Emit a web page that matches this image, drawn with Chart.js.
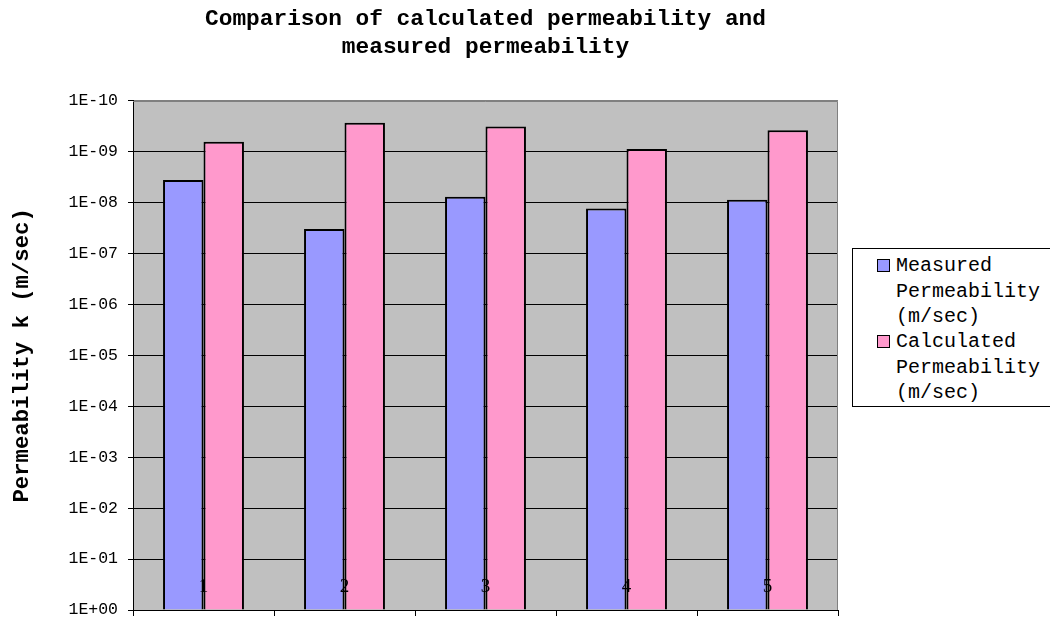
<!DOCTYPE html>
<html>
<head>
<meta charset="utf-8">
<script src="https://cdn.jsdelivr.net/npm/chart.js@4.4.0/dist/chart.umd.min.js"></script>
<style>
html,body{margin:0;padding:0;background:#fff;}
#wrap{position:relative;width:1050px;height:622px;overflow:hidden;background:#fff;}
#c{position:absolute;left:0;top:0;}
#legend{position:absolute;left:852px;top:248px;width:215px;height:157px;border:1px solid #000;background:#fff;
  font-family:"Liberation Mono",monospace;font-size:20px;color:#000;}
.sw{position:absolute;left:24px;width:11px;height:11px;border:1px solid #000;}
.txt{position:absolute;left:43px;line-height:25.6px;white-space:pre;}
</style>
</head>
<body>
<div id="wrap">
<canvas id="c" width="1050" height="622"></canvas>
<div id="legend"></div>
</div>
<script>
const categories = ['1', '2', '3', '4', '5'];
const seriesNames = [['Measured', 'Permeability', '(m/sec)'], ['Calculated', 'Permeability', '(m/sec)']];
const measured = [3.6e-9, 3.3e-8, 7.7e-9, 1.3e-8, 8.8e-9];
const calculated = [6.4e-10, 2.7e-10, 3.2e-10, 8.9e-10, 3.8e-10];
const seriesColors = ['#9999FF', '#FF99CC'];
const tickValues = [1e-10, 1e-9, 1e-8, 1e-7, 1e-6, 1e-5, 1e-4, 1e-3, 1e-2, 1e-1, 1];
const tickLabels = ['1E-10', '1E-09', '1E-08', '1E-07', '1E-06', '1E-05', '1E-04', '1E-03', '1E-02', '1E-01', '1E+00'];
const titleLines = ['Comparison of calculated permeability and', 'measured permeability'];
const yTitle = 'Permeability k (m/sec)';

// HTML legend
const leg = document.getElementById('legend');
const legTops = [[10, 4], [86, 80]];
seriesNames.forEach((lines, i) => {
  const sw = document.createElement('div');
  sw.className = 'sw';
  sw.style.top = legTops[i][0] + 'px';
  sw.style.background = seriesColors[i];
  leg.appendChild(sw);
  const t = document.createElement('div');
  t.className = 'txt';
  t.style.top = legTops[i][1] + 'px';
  t.textContent = lines.join('\n');
  leg.appendChild(t);
});

const bgPlugin = {
  id: 'bgPlugin',
  beforeDraw(chart) {
    const {ctx, chartArea: a} = chart;
    ctx.save();
    ctx.fillStyle = '#C0C0C0';
    ctx.fillRect(a.left, a.top, a.right - a.left, a.bottom - a.top);
    ctx.restore();
  },
  afterDatasetsDraw(chart) {
    const {ctx, chartArea: a, scales: {x, y}} = chart;
    ctx.save();
    ctx.strokeStyle = '#808080';
    ctx.lineWidth = 1;
    ctx.beginPath();
    ctx.moveTo(a.left, Math.round(a.top) + 0.5);
    ctx.lineTo(Math.round(a.right) - 0.5, Math.round(a.top) + 0.5);
    ctx.lineTo(Math.round(a.right) - 0.5, a.bottom);
    ctx.stroke();
    ctx.fillStyle = '#000';
    ctx.font = '19px "Liberation Serif"';
    ctx.textAlign = 'center';
    ctx.textBaseline = 'middle';
    categories.forEach((c, i) => ctx.fillText(c, x.getPixelForValue(i), y.bottom - 23));
    ctx.restore();
  }
};

new Chart(document.getElementById('c'), {
  type: 'bar',
  data: {
    labels: categories,
    datasets: [
      {label: seriesNames[0].join(' '), data: measured, base: 1, backgroundColor: seriesColors[0], borderColor: '#000', borderWidth: 2},
      {label: seriesNames[1].join(' '), data: calculated, base: 1, backgroundColor: seriesColors[1], borderColor: '#000', borderWidth: 2}
    ]
  },
  options: {
    responsive: false,
    animation: false,
    devicePixelRatio: 1,
    categoryPercentage: 0.574,
    barPercentage: 1,
    layout: {padding: {left: 0, right: 212, top: 0, bottom: 6}},
    plugins: {
      legend: {display: false},
      tooltip: {enabled: false},
      title: {
        display: true,
        text: titleLines,
        fullSize: false,
        color: '#000',
        font: {family: '"Liberation Mono", monospace', size: 22.8, weight: 'bold', lineHeight: 1.2},
        padding: {top: 6, bottom: 40}
      }
    },
    scales: {
      x: {
        type: 'category',
        offset: true,
        grid: {offset: true, drawOnChartArea: false, tickLength: 6, color: '#000', tickColor: '#000'},
        border: {color: '#000', width: 1},
        ticks: {display: false}
      },
      y: {
        type: 'logarithmic',
        reverse: true,
        min: 1e-10,
        max: 1,
        afterBuildTicks: (s) => { s.ticks = tickValues.map(v => ({value: v})); },
        afterFit: (s) => { s.width = 133; s.paddingTop = 0; s.paddingBottom = 0; },
        ticks: {
          autoSkip: false,
          padding: 10,
          color: '#000',
          font: {family: '"Liberation Mono", monospace', size: 16.5},
          callback: (v, i) => tickLabels[i]
        },
        grid: {
          color: (ctx) => ctx.index === 0 ? '#808080' : '#000',
          tickColor: '#000',
          tickLength: 5,
          lineWidth: 1
        },
        border: {color: '#000', width: 1},
        title: {
          display: true,
          text: yTitle,
          color: '#000',
          font: {family: '"Liberation Mono", monospace', size: 22.3, weight: 'bold', lineHeight: 1.2},
          padding: {top: 9, bottom: 0}
        }
      }
    }
  },
  plugins: [bgPlugin]
});
</script>
</body>
</html>
